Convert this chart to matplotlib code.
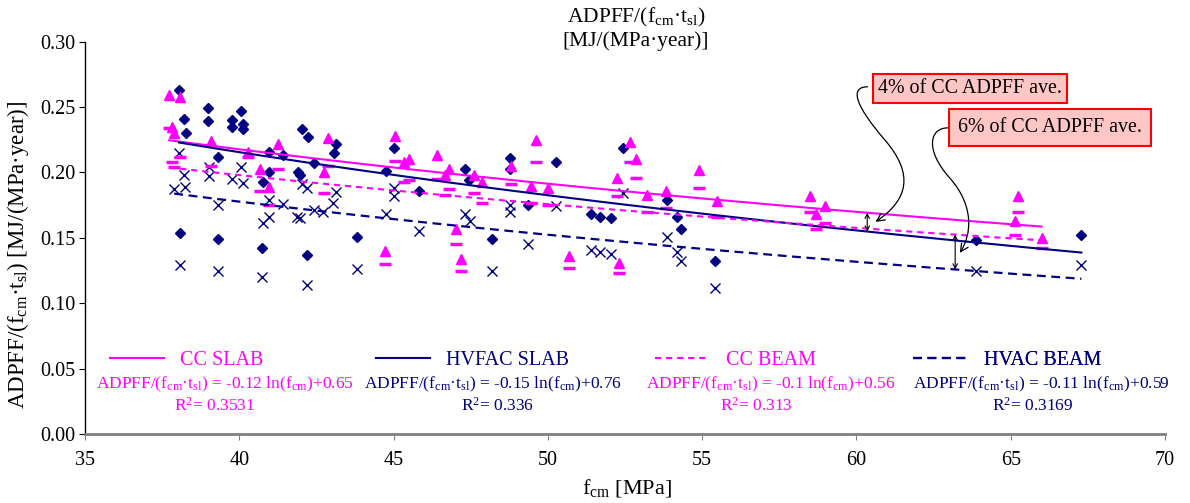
import numpy as np
import matplotlib
matplotlib.use("Agg")
import matplotlib.pyplot as plt
from matplotlib.lines import Line2D
from matplotlib.patches import FancyArrowPatch
from matplotlib.path import Path

plt.rcParams['font.family'] = ['Liberation Serif', 'DejaVu Serif']
plt.rcParams['mathtext.fontset'] = 'custom'
plt.rcParams['mathtext.rm'] = 'Liberation Serif'
plt.rcParams['mathtext.it'] = 'Liberation Serif:italic'
plt.rcParams['mathtext.bf'] = 'Liberation Serif:bold'

MAG = '#FF00FF'
NAVY = '#000080'

# === DATA ===
cc_x = [37.73, 38.08, 37.83, 37.89, 39.08, 40.29, 41.24, 40.67, 40.96, 42.88, 42.75, 44.72,
        45.04, 45.34, 45.51, 46.42, 46.80, 46.68, 47.61, 47.88, 47.02, 47.17, 48.80, 49.63,
        49.45, 50.01, 50.68, 52.25, 52.31, 52.65, 52.87, 53.22, 53.82, 54.90, 55.49, 58.49,
        58.99, 58.68, 65.23, 65.13, 66.00]
cc_slab = [0.259, 0.258, 0.235, 0.230, 0.224, 0.216, 0.222, 0.203, 0.189, 0.226, 0.200, 0.140,
           0.228, 0.208, 0.210, 0.213, 0.203, 0.198, 0.198, 0.193, 0.157, 0.134, 0.205, 0.225,
           0.190, 0.188, 0.136, 0.196, 0.131, 0.223, 0.210, 0.183, 0.186, 0.202, 0.178, 0.182,
           0.174, 0.168, 0.182, 0.163, 0.150]
cc_beam = [0.234, 0.212, 0.208, 0.204, 0.205, 0.212, 0.203, 0.186, 0.175, 0.205, 0.184, 0.130,
           0.209, 0.193, 0.194, 0.195, 0.187, 0.183, 0.184, 0.177, 0.145, 0.125, 0.191, 0.208,
           0.177, 0.175, 0.127, 0.182, 0.123, 0.208, 0.196, 0.170, 0.173, 0.188, 0.166, 0.170,
           0.161, 0.157, 0.170, 0.152, 0.142]

hv_slab_x = [38.05, 38.21, 38.26, 38.99, 38.99, 39.75, 39.75, 40.04, 40.13, 40.13, 39.30, 40.97,
             41.42, 40.78, 40.97, 41.89, 41.96, 42.02, 42.23, 42.43, 43.13, 43.07, 44.75, 38.08,
             39.30, 40.72, 42.21, 43.80, 45.01, 45.82, 47.31, 47.45, 48.77, 48.77, 50.26, 49.36,
             48.19, 51.39, 51.68, 52.06, 52.44, 53.86, 54.19, 54.31, 55.41, 63.88, 67.29]
hv_slab = [0.263, 0.241, 0.230, 0.249, 0.239, 0.240, 0.235, 0.247, 0.237, 0.233, 0.212, 0.216,
           0.213, 0.193, 0.200, 0.200, 0.198, 0.233, 0.227, 0.207, 0.222, 0.215, 0.201, 0.154,
           0.149, 0.142, 0.137, 0.151, 0.219, 0.186, 0.203, 0.194, 0.211, 0.203, 0.208, 0.175,
           0.149, 0.168, 0.166, 0.165, 0.219, 0.179, 0.166, 0.157, 0.132, 0.148, 0.152]

hv_beam_x = [38.05, 37.89, 38.21, 38.24, 39.02, 39.02, 39.30, 39.75, 40.04, 40.13, 40.97, 40.76,
             40.97, 41.42, 41.86, 41.96, 42.02, 42.21, 42.43, 42.70, 43.13, 43.04, 44.75, 38.08,
             39.30, 40.72, 43.80, 42.21, 45.00, 45.00, 45.82, 47.31, 47.47, 48.77, 48.77, 50.28,
             49.36, 48.19, 51.39, 51.68, 52.06, 52.44, 53.86, 54.19, 54.31, 55.41, 63.88, 67.29]
hv_beam = [0.215, 0.187, 0.198, 0.189, 0.204, 0.197, 0.175, 0.195, 0.204, 0.192, 0.179, 0.161,
           0.166, 0.176, 0.166, 0.165, 0.191, 0.188, 0.171, 0.170, 0.185, 0.177, 0.168, 0.129,
           0.125, 0.120, 0.126, 0.114, 0.188, 0.182, 0.155, 0.168, 0.163, 0.175, 0.170, 0.174,
           0.145, 0.125, 0.141, 0.139, 0.138, 0.184, 0.151, 0.139, 0.132, 0.112, 0.125, 0.129]

# log trendlines y = a ln(x) + b
fit_names = ['CC SLAB', 'HVFAC SLAB', 'CC BEAM', 'HVAC BEAM']
fit_a = [-0.118, -0.1476, -0.0995, -0.1134]
fit_b = [0.653, 0.760, 0.565, 0.596]
fit_eq = ['-0.12 ln(f$_{\\rm cm}$)+0.65', '-0.15 ln(f$_{\\rm cm}$)+0.76',
          '-0.1 ln(f$_{\\rm cm}$)+0.56', '-0.11 ln(f$_{\\rm cm}$)+0.59']
fit_r2 = ['0.3531', '0.336', '0.313', '0.3169']

LBL = 'ADPFF/(f$_{\\rm cm}$\u00b7t$_{\\rm sl}$)'


def trend(i, xs):
    return fit_a[i] * np.log(xs) + fit_b[i]


# === PLOT ===
fig = plt.figure(figsize=(11.9, 5.03), dpi=100)
ax = fig.add_axes([85 / 1190, 1 - 434 / 503, 1080 / 1190, 392.3 / 503])

ax.plot(hv_slab_x, hv_slab, 'D', color=NAVY, ms=5.5, mec=NAVY, zorder=3)
ax.plot(hv_beam_x, hv_beam, 'x', color=NAVY, ms=7, mew=1.0, zorder=3)
ax.plot(cc_x, cc_slab, '^', color=MAG, ms=7.5, mec=MAG, zorder=3)
ax.plot(cc_x, cc_beam, '_', color=MAG, ms=8, mew=2.5, zorder=3)

styles = [dict(color=MAG, lw=1.5, ls='-'),
          dict(color=NAVY, lw=1.5, ls='-'),
          dict(color=MAG, lw=1.5, ls=(0, (3, 2.3))),
          dict(color=NAVY, lw=1.6, ls=(0, (4, 2.5)))]
xsets = [cc_x, hv_slab_x, cc_x, hv_beam_x]
for i in range(4):
    xs = np.linspace(min(xsets[i]), max(xsets[i]), 200)
    ax.plot(xs, trend(i, xs), zorder=4, **styles[i])

ax.set_xlim(35, 70)
ax.set_ylim(0, 0.30)
ax.set_xticks(np.arange(35, 71, 5))
ax.set_yticks(np.arange(0, 0.31, 0.05))
ax.set_yticklabels([f'{v:.2f}' for v in np.arange(0, 0.31, 0.05)])
for s in ['top', 'right']:
    ax.spines[s].set_visible(False)
ax.spines['bottom'].set_color('#808080')
ax.spines['bottom'].set_linewidth(2)
ax.spines['left'].set_linewidth(1)
ax.tick_params(axis='x', direction='out', length=4, pad=8, labelsize=14.5, color='#808080')
ax.tick_params(axis='y', direction='out', length=4, pad=3, labelsize=14.5)

# legend entries (one small legend per series)
leg_x = [0.0231, 0.2694, 0.5278, 0.7667]
for i in range(4):
    h = Line2D([0], [0], **styles[i])
    lg = ax.legend([h], [fit_names[i]], loc='center left', bbox_to_anchor=(leg_x[i], 0.1886),
                   frameon=False, handlelength=2.7, handletextpad=0.8, fontsize=14.5,
                   borderpad=0, borderaxespad=0)
    lg.get_texts()[0].set_color(styles[i]['color'])
    ax.add_artist(lg)

eq_x = [0.1296, 0.3778, 0.6352, 0.8852]
r2_x = [0.1204, 0.3815, 0.6213, 0.8778]
for i in range(4):
    c = styles[i]['color']
    ax.text(eq_x[i], 0.1275, LBL + ' = ' + fit_eq[i], transform=ax.transAxes,
            ha='center', va='center', fontsize=12.5, color=c)
    ax.text(r2_x[i], 0.0714, 'R$^2$= ' + fit_r2[i], transform=ax.transAxes,
            ha='center', va='center', fontsize=12.5, color=c)

# annotations
box_kw = dict(boxstyle='square,pad=0.25', fc='#ffc6c6', ec='red', lw=1.5)
ax.text(60.69, 0.264, '4% of CC ADPFF ave.', fontsize=14.4, ha='left', va='center',
        bbox=box_kw, zorder=6)
box_kw2 = dict(box_kw, boxstyle='square,pad=0.45')
ax.text(63.28, 0.2345, '6% of CC ADPFF ave.', fontsize=14.4, ha='left', va='center',
        bbox=box_kw2, zorder=6)

# vertical double arrows between trendlines
for xv, i1, i2 in [(60.35, 0, 1), (63.2, 2, 3)]:
    ax.annotate('', xy=(xv, trend(i2, xv)), xytext=(xv, trend(i1, xv)),
                arrowprops=dict(arrowstyle='<->', lw=0.8, color='black',
                                shrinkA=0, shrinkB=0, mutation_scale=8), zorder=5)

codes = [Path.MOVETO, Path.CURVE4, Path.CURVE4, Path.CURVE4, Path.CURVE4, Path.CURVE4, Path.CURVE4]
curve1 = [(60.36, 0.2655), (59.78, 0.2655), (59.94, 0.2517), (60.92, 0.2249),
          (61.89, 0.1982), (61.66, 0.179), (60.62, 0.1622)]
curve2 = [(62.96, 0.2341), (62.37, 0.2341), (62.21, 0.2173), (63.02, 0.1959),
          (63.83, 0.1744), (63.73, 0.1523), (63.35, 0.1385)]
for cv in [curve1, curve2]:
    p = FancyArrowPatch(path=Path(cv, codes), arrowstyle='->', mutation_scale=14,
                        lw=0.9, color='black', zorder=5)
    ax.add_patch(p)

fig.text(636 / 1190, 1 - 22 / 503, LBL, ha='center', va='baseline', fontsize=15.5)
fig.text(636 / 1190, 1 - 46 / 503, '[MJ/(MPa\u00b7year)]', ha='center', va='baseline', fontsize=15.5)
fig.text(18 / 1190, 1 - 255 / 503, LBL + ' [MJ/(MPa\u00b7year)]', rotation=90,
         ha='center', va='center', fontsize=16.5)
fig.text(627 / 1190, 1 - 488 / 503, 'f$_{\\rm cm}$ [MPa]', ha='center', va='center', fontsize=16)

fig.savefig('out.png', dpi=100)
